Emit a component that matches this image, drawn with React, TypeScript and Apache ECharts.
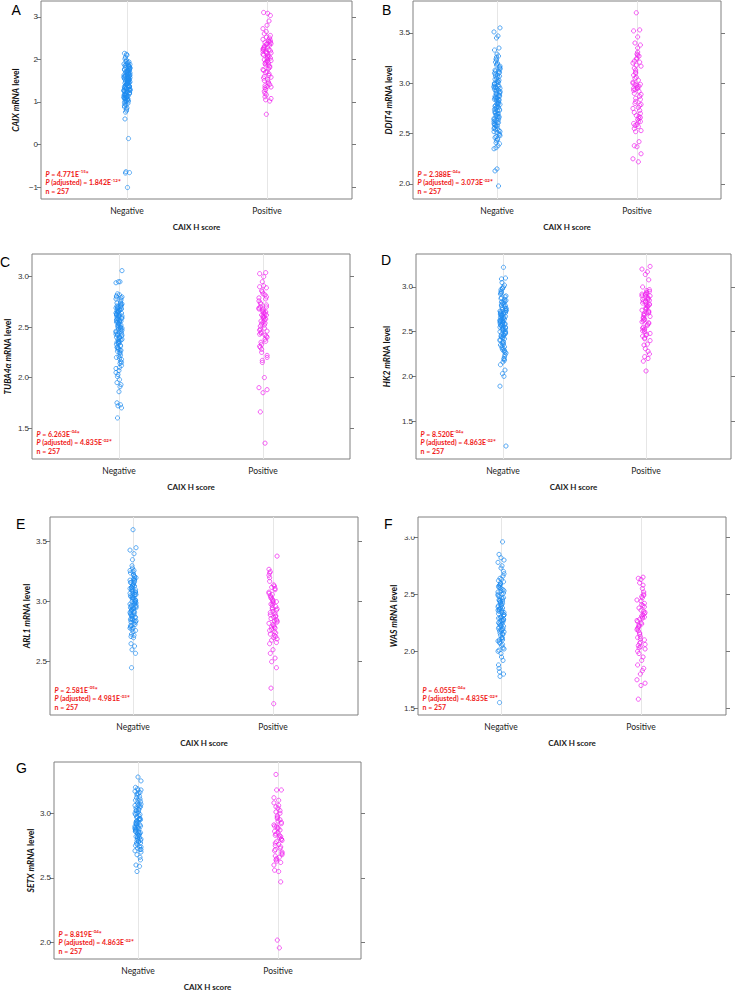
import React, { useEffect, useRef } from 'react';
import * as echarts from 'echarts';

// ---------- DATA ----------
const categories = ['Negative', 'Positive'];
const xAxisTitle = 'CAIX H score';
const genes = ['CAIX', 'DDIT4', 'TUBA4α', 'HK2', 'ARL1', 'WAS', 'SETX'];
const panelLetters = ['A', 'B', 'C', 'D', 'E', 'F', 'G'];
const pMantissa = ['4.771', '2.388', '6.263', '8.520', '2.581', '6.055', '8.819'];
const pExponent = ['-15', '-04', '-04', '-04', '-05', '-04', '-04'];
const adjMantissa = ['1.842', '3.073', '4.835', '4.863', '4.981', '4.835', '4.863'];
const adjExponent = ['-12', '-02', '-02', '-02', '-03', '-02', '-02'];
const sampleSize = 257;

const yTicksA = [-1, 0, 1, 2, 3];
const yTicksB = [2.0, 2.5, 3.0, 3.5];
const yTicksC = [1.5, 2.0, 2.5, 3.0];
const yTicksD = [1.5, 2.0, 2.5, 3.0];
const yTicksE = [2.5, 3.0, 3.5];
const yTicksF = [1.5, 2.0, 2.5, 3.0];
const yTicksG = [2.0, 2.5, 3.0];

const caixNeg = [1.42,1.18,1.65,0.93,1.37,1.81,1.06,1.54,1.29,2.12,1.73,1.11,1.47,0.86,1.60,1.33,1.95,1.22,1.49,1.04,1.77,1.38,0.79,1.58,1.26,1.88,1.13,1.44,1.69,1.01,1.35,2.05,1.52,1.17,1.84,1.41,0.97,1.63,1.28,1.90,1.08,1.56,1.31,1.74,1.20,1.46,2.14,1.67,0.83,1.39,1.15,1.79,1.50,1.24,1.86,1.03,1.61,1.34,1.71,0.91,1.45,1.19,1.92,1.57,1.27,1.66,1.09,1.83,1.40,1.53,0.76,1.23,1.75,1.36,1.98,1.14,1.59,1.30,1.70,1.05,1.48,1.87,1.21,1.62,1.43,0.88,1.78,1.32,1.55,1.10,1.68,1.25,2.01,1.51,1.16,1.82,1.38,1.64,0.99,1.45,1.72,1.07,1.89,1.57,2.10,0.60,0.14,-0.64,-0.66,-0.67,-1.01,1.36,1.52,1.12,1.74,1.28,1.63,1.41,1.85,1.02,1.55,1.19,1.70,1.47,1.33,1.94,1.09,1.60,1.26,1.80,1.43,0.95,1.58,1.31,1.76,1.15];
const caixPos = [1.95,2.31,1.62,2.18,2.44,1.38,2.05,2.26,1.84,2.52,1.47,2.12,2.37,1.71,1.99,2.22,1.29,2.40,1.90,2.08,1.56,2.33,2.16,1.78,2.47,1.35,2.02,2.28,1.66,1.93,2.20,2.39,1.52,2.10,1.81,2.35,1.44,2.24,1.97,2.14,1.60,2.42,1.87,2.03,1.33,2.29,1.74,2.50,1.17,1.92,2.19,1.58,2.36,1.25,2.07,1.69,2.56,1.12,1.98,2.23,1.41,2.65,1.86,2.72,1.08,2.80,1.50,2.90,1.05,3.03,1.20,3.08,3.10,1.02,0.71,2.45,1.76,2.15,1.36,2.60];

const ddit4Neg = [2.95,2.71,3.12,2.58,2.88,3.21,2.45,2.99,2.67,3.05,2.79,2.52,3.15,2.86,2.63,3.27,2.92,2.40,2.75,3.08,2.56,2.83,3.18,2.69,2.97,2.48,3.02,2.77,2.61,3.24,2.90,2.54,2.73,3.10,2.84,2.43,2.98,2.65,3.14,2.80,2.59,3.01,2.36,2.87,2.70,3.20,2.94,2.50,2.76,3.06,2.62,2.91,3.29,2.46,2.81,2.68,3.11,2.96,2.55,2.74,3.03,2.89,2.38,2.64,3.17,2.85,2.72,2.93,2.57,3.07,2.78,2.44,3.00,2.66,3.23,2.82,2.60,2.95,2.51,3.13,2.88,2.41,2.74,3.09,2.67,2.99,2.53,3.26,2.80,2.35,2.92,2.63,3.04,2.76,2.47,3.16,2.86,2.58,3.33,3.35,3.45,3.47,3.51,3.55,2.15,2.13,1.98,2.90,2.73,3.12,2.61,2.84,2.97,2.69,3.02,2.55,2.79,3.19,2.87,2.64,2.93,2.49,3.07,2.77,2.59,3.10,2.83,2.70,2.96,2.52,3.00,2.85];
const ddit4Pos = [2.98,3.22,2.65,3.10,2.84,2.58,3.28,2.95,2.73,3.18,2.62,3.01,2.79,3.25,2.55,2.92,3.13,2.70,2.99,3.31,2.60,2.87,3.06,2.76,3.20,2.53,2.96,3.15,2.67,2.82,3.38,2.94,2.64,3.08,2.78,3.24,2.57,3.00,2.89,3.29,2.71,2.97,3.11,2.62,2.80,3.35,2.93,3.21,2.68,3.03,2.75,3.17,2.59,2.90,3.27,2.85,2.66,3.40,3.46,3.52,3.53,3.70,2.22,2.25,2.30,2.37,2.38,2.42,2.52,2.99,3.05,2.95];

const tubaNeg = [2.45,2.62,2.31,2.70,2.18,2.55,2.40,2.81,2.27,2.66,2.50,2.09,2.73,2.36,2.58,2.22,2.68,2.44,2.01,2.61,2.33,2.77,2.48,2.14,2.64,2.38,2.53,1.95,2.71,2.28,2.59,2.42,2.82,2.20,2.56,2.35,2.67,2.05,2.47,2.63,2.30,2.75,2.51,2.12,2.69,2.39,2.57,1.93,2.65,2.25,2.46,2.80,2.34,2.60,2.16,2.52,2.72,2.43,1.98,2.62,2.37,2.54,2.24,2.78,2.49,2.07,2.66,2.32,2.58,2.41,2.83,2.19,2.55,2.70,2.29,1.91,2.45,2.61,2.36,2.74,2.50,2.03,2.68,2.26,2.56,2.40,2.79,2.95,2.95,2.94,3.06,1.86,1.75,1.73,1.72,1.70,1.60,2.10,2.63,2.52,2.34,2.67,2.43,2.59,2.21,2.71,2.48,2.38,2.64,2.30,2.55,2.80,2.46,2.61,2.27,2.69,2.42,2.57,2.35,2.73,2.50,2.15,2.65,2.40];
const tubaPos = [2.55,2.70,2.38,2.62,2.80,2.45,2.66,2.31,2.58,2.85,2.49,2.68,2.20,2.60,2.74,2.42,2.53,2.89,2.35,2.64,2.47,2.78,2.17,2.57,2.69,2.40,2.83,2.51,2.63,2.28,2.72,2.44,2.59,2.90,2.36,2.66,2.52,2.76,2.22,2.61,2.48,2.82,2.33,2.70,2.56,2.91,2.43,2.65,2.15,2.60,2.79,2.46,2.68,2.30,2.54,2.86,2.41,2.73,3.00,3.03,3.04,2.95,2.00,1.90,1.88,1.85,1.66,1.35,2.25,2.62];

const hk2Neg = [2.60,2.45,2.78,2.32,2.67,2.88,2.51,2.70,2.24,2.58,2.83,2.40,2.73,2.55,2.95,2.29,2.64,2.48,2.80,2.36,2.69,2.52,2.99,2.20,2.62,2.76,2.43,2.57,2.86,2.34,2.71,2.47,2.65,2.92,2.27,2.59,2.81,2.41,2.74,2.53,2.97,2.18,2.66,2.49,2.79,2.38,2.61,2.84,2.30,2.72,2.55,2.90,2.44,2.63,2.22,2.77,2.50,2.68,3.00,2.35,2.58,2.82,2.46,2.73,2.26,2.62,2.87,2.42,2.69,2.54,2.94,2.31,2.66,2.48,2.75,2.19,2.60,2.85,2.39,2.71,3.02,3.05,3.10,3.09,3.22,2.13,2.07,2.03,2.00,1.89,1.22,2.16,2.57,2.64,2.52,2.79,2.44,2.70,2.58,2.89,2.37,2.66,2.50,2.76,2.61,2.93,2.33,2.68,2.55,2.83,2.46,2.72,2.59,2.98,2.28,2.63,2.74,2.53];
const hk2Pos = [2.75,2.62,2.88,2.50,2.80,2.68,2.93,2.45,2.72,2.84,2.58,2.90,2.40,2.77,2.65,2.86,2.53,2.95,2.70,2.47,2.82,2.60,2.91,2.36,2.74,2.67,2.89,2.55,2.79,2.43,2.85,2.63,2.94,2.51,2.71,2.83,2.57,2.92,2.48,2.76,2.66,2.87,2.42,2.81,2.69,2.96,2.54,2.73,2.31,2.78,2.61,2.90,2.46,2.84,2.28,2.64,2.97,2.52,2.80,3.00,3.08,3.14,3.17,3.20,3.23,2.06,2.17,2.20,2.22,2.25,2.35,2.71,2.86,2.59,2.92];

const arl1Neg = [3.05,2.92,3.18,2.85,3.10,2.97,3.22,2.80,3.02,3.14,2.89,3.26,2.95,3.07,2.83,3.19,3.00,2.76,3.12,2.91,3.24,2.87,3.04,3.16,2.78,2.99,3.09,2.86,3.21,2.94,3.01,2.73,3.15,2.90,3.06,3.28,2.82,3.11,2.96,3.03,2.71,3.17,2.88,3.08,2.93,3.23,2.79,3.00,3.13,2.84,2.98,3.20,2.75,3.04,2.91,3.30,2.87,3.10,2.95,3.16,2.81,3.02,2.72,3.07,2.97,3.25,2.89,3.13,2.77,3.01,2.93,3.19,2.85,3.06,3.35,3.40,3.43,3.45,3.60,2.65,2.63,2.60,2.57,2.45,2.70,3.05,2.99,3.11,2.92,3.18,2.84,3.03,2.96,3.21,2.88,3.08,2.80,3.14,2.95,3.00,2.86,3.26,2.91,3.06,2.78,3.16,2.98,3.09,2.83,3.12,2.94];
const arl1Pos = [2.92,3.05,2.78,3.12,2.85,2.98,2.70,3.20,2.88,3.02,2.75,3.08,2.94,2.81,3.25,2.90,2.68,3.00,2.86,3.14,2.76,2.96,3.06,2.72,3.22,2.83,2.99,2.91,3.10,2.79,2.66,3.03,2.87,3.17,2.74,2.95,2.84,3.27,2.69,3.01,2.89,3.11,2.77,2.93,3.04,2.80,3.24,2.71,2.97,3.13,2.82,3.38,2.60,2.57,2.53,2.50,2.45,2.28,2.15,2.65,2.88,2.94,2.79,3.07,2.84,3.00,2.73];

const wasNeg = [2.30,2.48,2.15,2.56,2.22,2.37,2.05,2.62,2.27,2.43,2.11,2.52,2.34,1.98,2.45,2.19,2.58,2.31,2.08,2.40,2.25,2.66,2.14,2.50,2.36,2.02,2.55,2.21,2.42,2.29,2.70,2.10,2.47,2.33,1.92,2.60,2.24,2.39,2.17,2.53,2.35,2.06,2.64,2.28,2.44,1.95,2.57,2.20,2.38,2.12,2.49,2.32,2.73,2.01,2.46,2.26,2.61,2.18,2.41,1.88,2.54,2.23,2.36,2.09,2.68,2.30,1.85,2.44,2.16,2.51,1.82,2.27,2.40,2.03,2.59,2.75,2.78,2.80,2.82,2.85,2.96,1.78,1.80,1.55,2.35,2.20,2.26,2.43,2.12,2.50,2.32,2.19,2.56,2.38,2.07,2.47,2.24,2.63,2.29,2.15,2.41,2.34,2.00,2.53,2.22,2.37,2.10,2.45,2.28,2.58,2.18];
const wasPos = [2.25,2.05,2.40,2.15,2.30,1.98,2.48,2.20,2.35,2.08,2.55,2.27,2.02,2.44,2.18,2.32,2.60,2.10,2.38,2.24,2.00,2.50,2.13,2.29,2.45,2.06,2.36,2.21,2.58,2.16,2.42,2.03,2.31,2.26,2.52,2.11,2.47,2.19,2.34,2.63,2.64,2.65,2.07,2.39,2.23,1.92,1.88,1.85,1.80,1.83,1.75,1.72,1.70,1.58,1.95,2.28,2.33,2.22,2.41,2.12,2.49,2.04,2.30];

const setxNeg = [2.90,2.82,3.05,2.76,2.95,3.12,2.86,2.99,2.72,3.08,2.88,3.17,2.80,2.93,3.02,2.74,3.14,2.85,2.97,2.78,3.10,2.91,3.19,2.83,3.00,2.70,3.06,2.87,2.96,3.15,2.79,2.92,3.03,2.75,3.11,2.84,2.98,2.71,3.18,2.89,3.04,2.81,2.94,3.09,2.77,3.01,2.86,3.16,2.73,2.95,2.88,3.07,2.80,2.93,3.13,2.68,2.90,3.02,2.83,3.20,2.66,2.97,2.85,3.06,3.25,3.28,2.60,2.59,2.55,2.64,2.91,2.78,2.87,2.96,2.81,3.03,2.89,2.74,3.10,2.92,2.84,3.00,2.77,2.94,3.15,2.86,2.99,2.82,3.07,2.90,2.72,3.18,2.88,2.95,2.79,3.05];
const setxPos = [2.85,2.72,2.95,2.65,2.80,3.05,2.76,2.90,2.62,2.98,2.83,3.08,2.70,2.88,2.67,3.02,2.78,2.92,2.64,3.10,2.86,2.74,2.96,2.81,3.12,2.69,2.89,2.77,3.00,2.63,2.93,2.84,3.06,2.71,2.82,2.97,2.66,2.91,2.79,3.04,2.75,2.87,3.18,3.18,3.30,2.55,2.56,2.47,2.02,1.96,2.60,2.68,2.94,2.83,2.73,2.90,2.80,3.01];

const negativeSets = [caixNeg, ddit4Neg, tubaNeg, hk2Neg, arl1Neg, wasNeg, setxNeg];
const positiveSets = [caixPos, ddit4Pos, tubaPos, hk2Pos, arl1Pos, wasPos, setxPos];
const yTickSets = [yTicksA, yTicksB, yTicksC, yTicksD, yTicksE, yTicksF, yTicksG];

// ---------- LAYOUT / STYLE ----------
const LAYOUT = [
  { left: 41, top: 1, width: 311, height: 198, yMin: -1.28, yMax: 3.37, xMin: 0.386, xMax: 2.607, nameGap: 21, letter: [11.5, 2.5] },
  { left: 413, top: 1, width: 308, height: 198, yMin: 1.851, yMax: 3.817, xMin: 0.4, xMax: 2.6, nameGap: 20, letter: [382, 2.5] },
  { left: 32, top: 254, width: 318, height: 205, yMin: 1.193, yMax: 3.225, xMin: 0.396, xMax: 2.604, nameGap: 20, letter: [0, 254.5] },
  { left: 416, top: 254, width: 315, height: 205, yMin: 1.075, yMax: 3.369, xMin: 0.392, xMax: 2.594, nameGap: 25, letter: [381, 252.5] },
  { left: 50, top: 517, width: 308, height: 198, yMin: 2.056, yMax: 3.706, xMin: 0.407, xMax: 2.607, nameGap: 18, letter: [16, 516.5] },
  { left: 418, top: 517, width: 308, height: 198, yMin: 1.441, yMax: 3.178, xMin: 0.407, xMax: 2.607, nameGap: 20, letter: [384, 516.5] },
  { left: 54, top: 762, width: 307, height: 197, yMin: 1.874, yMax: 3.396, xMin: 0.4, xMax: 2.593, nameGap: 19, letter: [16, 761] },
];
const JITTER = [0, -2, 1.5, -1, 2.5, -1.5, 0.5, -2.5, 2, -0.5, 1, -3, 3];
const NEG_COLOR = '#1e8cf0';
const POS_COLOR = '#f020f0';
const RED = '#f01818';
const UI_FONT = 'Lato, "Open Sans", sans-serif';
const NUM_FONT = '"Liberation Sans", Arial, sans-serif';

function buildOption() {
  const grid: any[] = [];
  const xAxis: any[] = [];
  const yLeft: any[] = [];
  const yRight: any[] = [];
  const series: any[] = [];
  const graphic: any[] = [];

  LAYOUT.forEach((l, i) => {
    const ticks = yTickSets[i];
    const fmt = (v: number) => {
      if (i === 0) return v < 0 ? '\u2212' + Math.abs(v) : String(v);
      return v.toFixed(1);
    };
    grid.push({
      left: l.left, top: l.top, width: l.width, height: l.height,
      show: true, borderColor: '#808080', borderWidth: 1, backgroundColor: 'transparent',
      containLabel: false, outerBoundsMode: 'none',
    });
    xAxis.push({
      type: 'value', gridIndex: i, min: l.xMin, max: l.xMax,
      axisLine: { show: false },
      axisTick: { show: false, customValues: [1, 2] },
      axisLabel: {
        customValues: [1, 2], margin: 7, fontSize: 8.5, fontFamily: UI_FONT, color: '#222',
        formatter: (v: number) => categories[Math.round(v) - 1] ?? '',
      },
      splitLine: { show: true, lineStyle: { color: '#e6e6e6', width: 1 } },
      name: xAxisTitle, nameLocation: 'middle', nameGap: 24,
      nameTextStyle: { fontSize: 8, fontWeight: 'bold', fontFamily: UI_FONT, color: '#222' },
    });
    yLeft.push({
      type: 'value', gridIndex: i, position: 'left', min: l.yMin, max: l.yMax,
      axisLine: { show: false },
      axisTick: { show: true, length: 4, customValues: ticks, lineStyle: { color: '#777' } },
      axisLabel: { customValues: ticks, formatter: fmt, fontSize: 8, fontFamily: NUM_FONT, color: '#333', margin: 3 },
      splitLine: { show: false },
      name: `{i|${genes[i]} mRNA} {b|level}`, nameLocation: 'middle', nameGap: l.nameGap,
      nameTextStyle: {
        fontSize: 8.5, fontWeight: 'bold', fontFamily: UI_FONT, color: '#111',
        rich: {
          i: { fontSize: 8.5, fontWeight: 'bold', fontStyle: 'italic', fontFamily: UI_FONT, color: '#111' },
          b: { fontSize: 8.5, fontWeight: 'bold', fontFamily: UI_FONT, color: '#111' },
        },
      },
    });
    yRight.push({
      type: 'value', gridIndex: i, position: 'right', min: l.yMin, max: l.yMax,
      axisLine: { show: false },
      axisTick: { show: true, length: 4, customValues: ticks, lineStyle: { color: '#777' } },
      axisLabel: { show: false },
      splitLine: { show: false },
    });

    const mk = (vals: number[], xVal: number, scale: number) =>
      vals.map((v, k) => ({ value: [xVal, v], symbolOffset: [JITTER[k % JITTER.length] * scale, 0] }));
    series.push({
      type: 'scatter', name: `${genes[i]} ${categories[0]}`, xAxisIndex: i, yAxisIndex: i,
      data: mk(negativeSets[i], 1, 1), symbol: 'circle', symbolSize: 4.2, silent: true,
      itemStyle: { color: 'rgba(0,0,0,0)', borderColor: NEG_COLOR, borderWidth: 0.9 },
    });
    series.push({
      type: 'scatter', name: `${genes[i]} ${categories[1]}`, xAxisIndex: i, yAxisIndex: i,
      data: mk(positiveSets[i], 2, 1.35), symbol: 'circle', symbolSize: 4.2, silent: true,
      itemStyle: { color: 'rgba(0,0,0,0)', borderColor: POS_COLOR, borderWidth: 0.9 },
    });

    graphic.push({
      type: 'text', x: l.letter[0], y: l.letter[1], z: 50,
      style: { text: panelLetters[i], fontSize: 14, fontFamily: NUM_FONT, fill: '#000', align: 'left', verticalAlign: 'top' },
    });
    const rich = {
      i: { fontSize: 7, fontStyle: 'italic', fontWeight: 'bold', fontFamily: UI_FONT, fill: RED, lineHeight: 9 },
      n: { fontSize: 7, fontWeight: 'bold', fontFamily: UI_FONT, fill: RED, lineHeight: 9 },
      s: { fontSize: 4.5, fontWeight: 'bold', fontFamily: UI_FONT, fill: RED, lineHeight: 4, verticalAlign: 'top' },
    };
    const bottom = l.top + l.height;
    const lines = [
      `{i|P}{n| = ${pMantissa[i]}E}{s|${pExponent[i]}}{n|*}`,
      `{i|P}{n| (adjusted) = ${adjMantissa[i]}E}{s|${adjExponent[i]}}{n|*}`,
      `{n|n = ${sampleSize}}`,
    ];
    const offs = [25.5, 16.8, 8];
    lines.forEach((t, j) => {
      graphic.push({
        type: 'text', x: l.left + 4.5, y: bottom - offs[j], z: 50,
        style: { text: t, rich, align: 'left', verticalAlign: 'middle' },
      });
    });
  });

  // partially hidden top tick label in panel F
  graphic.push({
    type: 'rect', z: 40, shape: { x: 394, y: 527, width: 21, height: 9.5 }, style: { fill: '#ffffff' },
  });

  return {
    animation: false,
    backgroundColor: '#ffffff',
    grid, xAxis, yAxis: [...yLeft, ...yRight],
    series,
    graphic,
  };
}

export default function App() {
  const ref = useRef<HTMLDivElement>(null);
  useEffect(() => {
    if (!ref.current) return;
    const chart = echarts.init(ref.current, null, { renderer: 'svg' });
    chart.setOption(buildOption());
    return () => chart.dispose();
  }, []);
  return <div ref={ref} style={{ position: 'absolute', left: 0, top: 0, width: 738, height: 991 }} />;
}
